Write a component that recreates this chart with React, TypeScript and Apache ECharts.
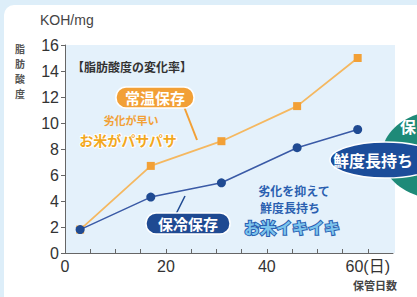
import React, { useEffect, useRef } from "react";
import * as echarts from "echarts";

const days = [3, 17, 31, 46, 58];
const roomTemp = [1.8, 6.7, 8.6, 11.3, 15.0];
const cooled = [1.8, 4.3, 5.4, 8.1, 9.5];
const xTickLabels: Record<number, string> = { 0: "0", 20: "20", 40: "40", 60: "60(日)" };

const ORANGE = "#f2a036";
const BLUE = "#1f4a92";
const FONT = "'Liberation Sans', 'Noto Sans CJK JP', sans-serif";
const JP = "'Noto Sans CJK JP', sans-serif";

export default function App() {
  const ref = useRef<HTMLDivElement>(null);
  useEffect(() => {
    if (!ref.current) return;
    const chart = echarts.init(ref.current, undefined, { renderer: "svg" });
    const toPairs = (ys: number[]) => days.map((d, i) => [d, ys[i]]);
    chart.setOption({
      animation: false,
      backgroundColor: "#ddeef9",
      grid: { left: 65, right: 24, top: 45, bottom: 44, show: true, backgroundColor: "#e4f1fb", borderWidth: 0 },
      xAxis: {
        type: "value",
        min: 0,
        max: 65,
        interval: 5,
        axisLine: { show: true, onZero: false, lineStyle: { color: "#666", width: 1 } },
        axisTick: { show: true, length: 4, inside: true, lineStyle: { color: "#666" } },
        splitLine: { show: false },
        axisLabel: {
          color: "#333",
          fontSize: 16,
          fontFamily: FONT,
          margin: 5,
          showMaxLabel: false,
          formatter: (v: number) => xTickLabels[v] ?? "",
        },
      },
      yAxis: {
        type: "value",
        min: 0,
        max: 16,
        interval: 2,
        axisLine: { show: true, lineStyle: { color: "#666", width: 1 } },
        axisTick: { show: true, length: 4, lineStyle: { color: "#666" } },
        splitLine: { show: false },
        axisLabel: { color: "#333", fontSize: 16, fontFamily: FONT, margin: 6 },
      },
      series: [
        {
          type: "line",
          data: toPairs(roomTemp),
          symbol: "rect",
          symbolSize: 8,
          lineStyle: { color: "#f5b860", width: 1.8 },
          itemStyle: { color: ORANGE },
          z: 2,
        },
        {
          type: "line",
          data: toPairs(cooled),
          symbol: "circle",
          symbolSize: 9,
          lineStyle: { color: "#3a5aa6", width: 1.5 },
          itemStyle: { color: BLUE },
          z: 3,
        },
      ],
      graphic: [
        { type: "rect", shape: { x: 4, y: 5, width: 430, height: 310, r: 10 }, style: { fill: "#ffffff" }, z: -10, silent: true },
        { type: "rect", shape: { x: 65, y: 45, width: 330, height: 208 }, style: { fill: "#e4f1fb" }, z: -9, silent: true },
        { type: "text", x: 40, y: 13, style: { text: "KOH/mg", fontSize: 14, fill: "#444", fontFamily: FONT } },
        {
          type: "text",
          x: 20,
          y: 41,
          style: { text: "脂\n肪\n酸\n度", fontSize: 10, lineHeight: 15, fill: "#555", fontFamily: JP, fontWeight: "bold", align: "center", verticalAlign: "top" },
        },
        { type: "text", x: 72, y: 60, style: { text: "【脂肪酸度の変化率】", fontSize: 12, fill: "#333", fontFamily: JP, fontWeight: "bold" } },
        { type: "line", shape: { x1: 183, y1: 104, x2: 197, y2: 140 }, style: { stroke: ORANGE, lineWidth: 2 }, z: 10 },
        { type: "rect", shape: { x: 116, y: 87, width: 78, height: 21, r: 10 }, style: { fill: ORANGE, stroke: "#fff", lineWidth: 1.5 }, z: 10 },
        { type: "text", x: 155, y: 97.5, style: { text: "常温保存", fontSize: 15, fill: "#fff", fontFamily: JP, fontWeight: "bold", align: "center", verticalAlign: "middle" }, z: 11 },
        { type: "text", x: 131, y: 120, style: { text: "劣化が早い", fontSize: 11, fill: ORANGE, fontFamily: JP, fontWeight: "bold", align: "center", verticalAlign: "middle" }, z: 11 },
        { type: "text", x: 128, y: 140, style: { text: "お米がパサパサ", fontSize: 14, fill: "#f2a81e", fontFamily: JP, fontWeight: "bold", align: "center", verticalAlign: "middle", stroke: "#fff", lineWidth: 2 }, z: 11 },
        { type: "line", shape: { x1: 176, y1: 214, x2: 185, y2: 196 }, style: { stroke: BLUE, lineWidth: 1.5 }, z: 10 },
        { type: "rect", shape: { x: 146, y: 213, width: 84, height: 21, r: 10 }, style: { fill: BLUE, stroke: "#fff", lineWidth: 1.5 }, z: 10 },
        { type: "text", x: 188, y: 223.5, style: { text: "保冷保存", fontSize: 15, fill: "#fff", fontFamily: JP, fontWeight: "bold", align: "center", verticalAlign: "middle" }, z: 11 },
        { type: "text", x: 294, y: 190, style: { text: "劣化を抑えて", fontSize: 12, fill: "#2a5fb0", fontFamily: JP, fontWeight: "bold", align: "center", verticalAlign: "middle" }, z: 11 },
        { type: "text", x: 290, y: 207, style: { text: "鮮度長持ち", fontSize: 12, fill: "#2a5fb0", fontFamily: JP, fontWeight: "bold", align: "center", verticalAlign: "middle" }, z: 11 },
        { type: "text", x: 292, y: 227, style: { text: "お米イキイキ", fontSize: 16, fill: "#7cc4ec", fontFamily: JP, fontWeight: "bold", align: "center", verticalAlign: "middle", stroke: "#2a5fb0", lineWidth: 2 }, z: 11 },
        { type: "ellipse", shape: { cx: 440, cy: 155, rx: 58, ry: 44 }, style: { fill: "#1e8a78" }, z: 12 },
        { type: "text", x: 400, y: 118, style: { text: "保", fontSize: 16, fill: "#fff", fontFamily: JP, fontWeight: "bold" }, z: 13 },
        { type: "ellipse", shape: { cx: 385, cy: 160, rx: 55, ry: 18 }, style: { fill: "#1c4d9a", stroke: "#fff", lineWidth: 1.5 }, z: 14 },
        { type: "text", x: 333, y: 160, style: { text: "鮮度長持ち", fontSize: 16, fill: "#fff", fontFamily: JP, fontWeight: "bold", verticalAlign: "middle" }, z: 15 },
        { type: "text", x: 353, y: 279, style: { text: "保管日数", fontSize: 11, fill: "#444", fontFamily: JP, fontWeight: "bold" } },
      ],
    });
    return () => chart.dispose();
  }, []);
  return <div ref={ref} style={{ width: 417, height: 297, position: "fixed", left: 0, top: 0 }} />;
}
